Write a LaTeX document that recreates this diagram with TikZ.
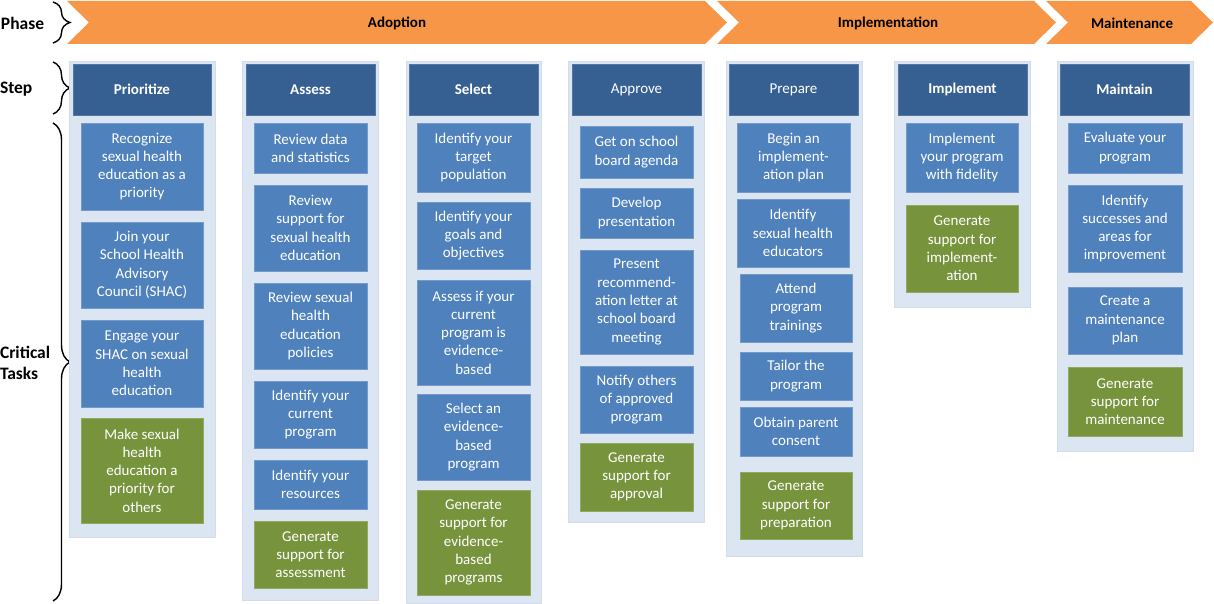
\documentclass[tikz,border=0pt]{standalone}
\usepackage{fontspec}
\setmainfont{Carlito}
\usetikzlibrary{decorations.pathreplacing}
\definecolor{phaseorange}{HTML}{F79646}
\definecolor{hdblue}{HTML}{376092}
\definecolor{taskblue}{HTML}{4F81BD}
\definecolor{taskgreen}{HTML}{77933C}
\definecolor{colbg}{HTML}{DCE6F2}
\definecolor{colbgline}{HTML}{D3DDEA}
\newcommand\rbox[7]{\node[#6, minimum width={#4-#2}, minimum height={#5-#3}] (#1) at ({(#2+#4)/2},{(#3+#5)/2}) {#7};}
\begin{document}
\begin{tikzpicture}[x=1pt,y=-1pt,
  every node/.style={inner sep=0pt, outer sep=0pt},
  bgbox/.style={rectangle, fill=colbg, draw=colbgline, line width=0.6pt},
  hdbox/.style={rectangle, fill=hdblue, draw=hdblue!85!white, line width=0.6pt, text=white, align=center, font=\fontsize{15}{18.3}\selectfont\bfseries},
  hdboxr/.style={hdbox, font=\fontsize{15}{18.3}\selectfont},
  tbb/.style={rectangle, fill=taskblue, draw=taskblue!80!white, line width=0.6pt, text=white, align=center, font=\fontsize{15}{18.3}\selectfont},
  tbg/.style={tbb, fill=taskgreen, draw=taskgreen!80!white},
  chev/.style={fill=phaseorange},
  phaselbl/.style={font=\fontsize{15}{18}\selectfont\bfseries, text=black},
  sidelbl/.style={font=\fontsize{17.5}{20.5}\selectfont\bfseries, text=black, anchor=west, align=left},
  bracestyle/.style={decorate, decoration={brace, amplitude=17pt}, line width=1.4pt, black}
]
\useasboundingbox (0,0) rectangle (1214,604);

% Phase chevrons
\fill[chev] (67,1) -- (705,1) -- (727,22.5) -- (705,44) -- (67,44) -- (89,22.5) -- cycle;
\fill[chev] (717,1) -- (1034,1) -- (1056,22.5) -- (1034,44) -- (717,44) -- (739,22.5) -- cycle;
\fill[chev] (1046,1) -- (1191,1) -- (1213,22.5) -- (1191,44) -- (1046,44) -- (1068,22.5) -- cycle;
\node[phaselbl] (adoption) at (397,23) {Adoption};
\node[phaselbl] (implementation) at (888,23) {Implementation};
\node[phaselbl] (maintenance) at (1132,23) {Maintenance};

% Side labels and braces
\node[sidelbl] (phaselabel) at (1,23) {Phase};
\node[sidelbl] (steplabel) at (0,89) {Step};
\node[sidelbl] (critlabel) at (0,363) {Critical\\Tasks};
\coordinate (b1t) at (53,2);  \coordinate (b1b) at (53,43);
\coordinate (b2t) at (53,62); \coordinate (b2b) at (53,114);
\coordinate (b3t) at (53,123); \coordinate (b3b) at (53,601);
\draw[bracestyle] (b1t) -- (b1b);
\draw[bracestyle] (b2t) -- (b2b);
\draw[bracestyle] (b3t) -- (b3b);

% Column 1: Prioritize
\rbox{bg1}{69}{61}{215}{537}{bgbox}{}
\rbox{h1}{73}{64}{211}{115}{hdbox}{Prioritize}
\rbox{t11}{81}{123}{203}{210}{tbb}{Recognize\\sexual health\\education as a\\priority}
\rbox{t12}{81}{222}{203}{308}{tbb}{Join your\\School Health\\Advisory\\Council (SHAC)}
\rbox{t13}{81}{320}{203}{407}{tbb}{Engage your\\SHAC on sexual\\health\\education}
\rbox{t14}{81}{418}{203}{523}{tbg}{Make sexual\\health\\education a\\priority for\\others}

% Column 2: Assess
\rbox{bg2}{242}{61}{378}{600}{bgbox}{}
\rbox{h2}{246}{64}{375}{115}{hdbox}{Assess}
\rbox{t21}{254}{123}{367}{173}{tbb}{Review data\\and statistics}
\rbox{t22}{254}{185}{367}{271}{tbb}{Review\\support for\\sexual health\\education}
\rbox{t23}{254}{283}{367}{369}{tbb}{Review sexual\\health\\education\\policies}
\rbox{t24}{254}{381}{367}{448}{tbb}{Identify your\\current\\program}
\rbox{t25}{254}{460}{367}{509}{tbb}{Identify your\\resources}
\rbox{t26}{254}{521}{367}{588}{tbg}{Generate\\support for\\assessment}

% Column 3: Select
\rbox{bg3}{406}{61}{541}{603}{bgbox}{}
\rbox{h3}{409}{64}{538}{115}{hdbox}{Select}
\rbox{t31}{417}{123}{530}{192}{tbb}{Identify your\\target\\population}
\rbox{t32}{417}{202}{530}{269}{tbb}{Identify your\\goals and\\objectives}
\rbox{t33}{417}{280}{530}{385}{tbb}{Assess if your\\current\\program is\\evidence-\\based}
\rbox{t34}{417}{394}{530}{480}{tbb}{Select an\\evidence-\\based\\program}
\rbox{t35}{417}{490}{530}{595}{tbg}{Generate\\support for\\evidence-\\based\\programs}

% Column 4: Approve
\rbox{bg4}{568}{61}{704}{522}{bgbox}{}
\rbox{h4}{572}{64}{701}{115}{hdboxr}{Approve}
\rbox{t41}{580}{126}{693}{178}{tbb}{Get on school\\board agenda}
\rbox{t42}{580}{188}{693}{238}{tbb}{Develop\\presentation}
\rbox{t43}{580}{250}{693}{354}{tbb}{Present\\recommend-\\ation letter at\\school board\\meeting}
\rbox{t44}{580}{366}{693}{433}{tbb}{Notify others\\of approved\\program}
\rbox{t45}{580}{443}{693}{511}{tbg}{Generate\\support for\\approval}

% Column 5: Prepare
\rbox{bg5}{726}{61}{862}{556}{bgbox}{}
\rbox{h5}{729}{64}{858}{115}{hdboxr}{Prepare}
\rbox{t51}{737}{123}{850}{192}{tbb}{Begin an\\implement-\\ation plan}
\rbox{t52}{737}{199}{849}{267}{tbb}{Identify\\sexual health\\educators}
\rbox{t53}{740}{274}{852}{342}{tbb}{Attend\\program\\trainings}
\rbox{t54}{740}{352}{852}{400}{tbb}{Tailor the\\program}
\rbox{t55}{740}{407}{852}{456}{tbb}{Obtain parent\\consent}
\rbox{t56}{740}{472}{852}{539}{tbg}{Generate\\support for\\preparation}

% Column 6: Implement
\rbox{bg6}{894}{61}{1030}{307}{bgbox}{}
\rbox{h6}{898}{64}{1027}{115}{hdbox}{Implement}
\rbox{t61}{906}{123}{1018}{192}{tbb}{Implement\\your program\\with fidelity}
\rbox{t62}{906}{205}{1018}{292}{tbg}{Generate\\support for\\implement-\\ation}

% Column 7: Maintain
\rbox{bg7}{1057}{61}{1193}{451}{bgbox}{}
\rbox{h7}{1060}{64}{1189}{115}{hdbox}{Maintain}
\rbox{t71}{1068}{123}{1182}{173}{tbb}{Evaluate your\\program}
\rbox{t72}{1068}{185}{1182}{272}{tbb}{Identify\\successes and\\areas for\\improvement}
\rbox{t73}{1068}{287}{1182}{354}{tbb}{Create a\\maintenance\\plan}
\rbox{t74}{1068}{367}{1182}{436}{tbg}{Generate\\support for\\maintenance}
\end{tikzpicture}
\end{document}
